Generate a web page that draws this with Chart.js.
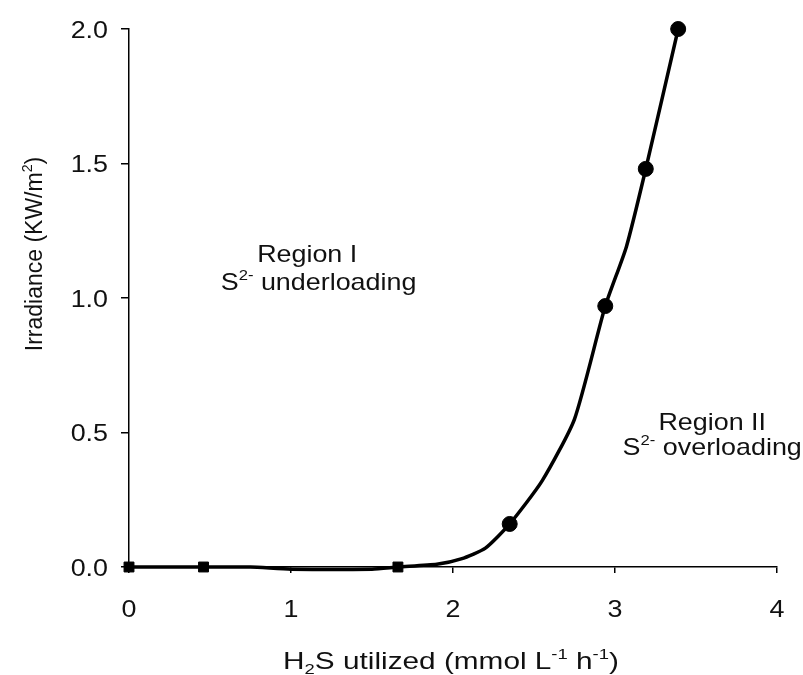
<!DOCTYPE html>
<html>
<head>
<meta charset="utf-8">
<script src="https://cdn.jsdelivr.net/npm/chart.js@4.4.0/dist/chart.umd.min.js"></script>
<style>
  body { margin: 0; background: #fff; }
  canvas { display: block; }
</style>
</head>
<body>
<canvas id="grafico" width="803" height="675"></canvas>
<script>
// dati (H2S utilizzato vs irradianza)
var curveX = [0, 0.46, 0.75, 1.0, 1.5, 1.66, 1.9, 2.05, 2.2, 2.35, 2.55, 2.75, 2.94, 3.07, 3.19, 3.39];
var curveY = [0, 0, 0, -0.008, -0.008, 0, 0.01, 0.03, 0.07, 0.16, 0.32, 0.55, 0.97, 1.19, 1.48, 2.0];
var squareX = [0, 0.46, 1.66];
var squareY = [0, 0, 0];
var circleX = [2.35, 2.94, 3.19, 3.39];
var circleY = [0.16, 0.97, 1.48, 2.0];
var xTicks = [0, 1, 2, 3, 4];
var yTicks = [0, 0.5, 1.0, 1.5, 2.0];

var FONT = '"Liberation Sans", Arial, sans-serif';
var TEXT = '#111';
var STRETCH = 1.12;

function toPoints(xs, ys) {
  return xs.map(function (x, i) { return { x: x, y: ys[i] }; });
}

// testo con apici / pedici
function drawRich(ctx, parts, x, y, size, align, sx, rot) {
  ctx.save();
  ctx.translate(x, y);
  if (rot) ctx.rotate(rot);
  ctx.scale(sx, 1);
  var w = 0;
  parts.forEach(function (p) {
    ctx.font = (p.k ? size * 0.62 : size) + 'px ' + FONT;
    w += ctx.measureText(p.t).width;
  });
  var cx = align === 'center' ? -w / 2 : (align === 'right' ? -w : 0);
  ctx.fillStyle = TEXT;
  ctx.textAlign = 'left';
  ctx.textBaseline = 'alphabetic';
  parts.forEach(function (p) {
    var s = p.k ? size * 0.62 : size;
    var dy = p.k === 'sup' ? -size * 0.42 : (p.k === 'sub' ? size * 0.2 : 0);
    ctx.font = s + 'px ' + FONT;
    ctx.fillText(p.t, cx, dy);
    cx += ctx.measureText(p.t).width;
  });
  ctx.restore();
}

var testiPlugin = {
  id: 'testi',
  afterDraw: function (chart) {
    var ctx = chart.ctx;
    var xs = chart.scales.x, ys = chart.scales.y;

    // etichette tick
    yTicks.forEach(function (v) {
      drawRich(ctx, [{ t: v.toFixed(1) }], 108, ys.getPixelForValue(v) + 8.5, 24, 'right', STRETCH);
    });
    xTicks.forEach(function (v) {
      drawRich(ctx, [{ t: String(v) }], xs.getPixelForValue(v), 617, 24, 'center', STRETCH);
    });

    // titoli assi
    drawRich(ctx, [{ t: 'H' }, { t: '2', k: 'sub' }, { t: 'S utilized (mmol L' }, { t: '-1', k: 'sup' },
      { t: ' h' }, { t: '-1', k: 'sup' }, { t: ')' }], 451, 669, 24, 'center', 1.24);
    drawRich(ctx, [{ t: 'Irradiance (KW/m' }, { t: '2', k: 'sup' }, { t: ')' }], 42, 254, 23, 'center', 1, -Math.PI / 2);

    // regioni
    drawRich(ctx, [{ t: 'Region I' }], xs.getPixelForValue(1.1), ys.getPixelForValue(1.135), 24, 'center', STRETCH);
    drawRich(ctx, [{ t: 'S' }, { t: '2-', k: 'sup' }, { t: ' underloading' }], xs.getPixelForValue(1.17), ys.getPixelForValue(1.03), 24, 'center', STRETCH);
    drawRich(ctx, [{ t: 'Region II' }], xs.getPixelForValue(3.6), ys.getPixelForValue(0.51), 24, 'center', STRETCH);
    drawRich(ctx, [{ t: 'S' }, { t: '2-', k: 'sup' }, { t: ' overloading' }], xs.getPixelForValue(3.6), ys.getPixelForValue(0.415), 24, 'center', STRETCH);
  }
};

var ctxGrafico = document.getElementById('grafico').getContext('2d');
var grafico = new Chart(ctxGrafico, {
  type: 'scatter',
  data: {
    datasets: [{
      data: toPoints(curveX, curveY),
      showLine: true,
      borderColor: '#000',
      borderWidth: 3.5,
      tension: 0.2,
      pointRadius: 0,
      clip: false
    }, {
      data: toPoints(squareX, squareY),
      pointStyle: 'rect',
      pointRadius: 7,
      backgroundColor: '#000',
      borderColor: '#000',
      clip: false
    }, {
      data: toPoints(circleX, circleY),
      pointStyle: 'circle',
      pointRadius: 7.5,
      backgroundColor: '#000',
      borderColor: '#000',
      clip: false
    }]
  },
  options: {
    responsive: false,
    animation: false,
    events: [],
    layout: { padding: { top: 29, right: 26, left: 0, bottom: 0 } },
    plugins: { legend: { display: false }, tooltip: { enabled: false } },
    scales: {
      x: {
        type: 'linear',
        min: 0,
        max: 4,
        afterBuildTicks: function (s) { s.ticks = xTicks.map(function (v) { return { value: v }; }); },
        afterFit: function (s) { s.height = 108; },
        ticks: { display: false },
        grid: { drawOnChartArea: false, color: '#000', lineWidth: 1.5, tickLength: 6 },
        border: { color: '#000', width: 1.5 }
      },
      y: {
        type: 'linear',
        min: 0,
        max: 2,
        afterBuildTicks: function (s) { s.ticks = yTicks.map(function (v) { return { value: v }; }); },
        afterFit: function (s) { s.width = 129; },
        ticks: { display: false },
        grid: { drawOnChartArea: false, color: '#000', lineWidth: 1.5, tickLength: 8 },
        border: { color: '#000', width: 1.5 }
      }
    }
  },
  plugins: [testiPlugin]
});
</script>
</body>
</html>
